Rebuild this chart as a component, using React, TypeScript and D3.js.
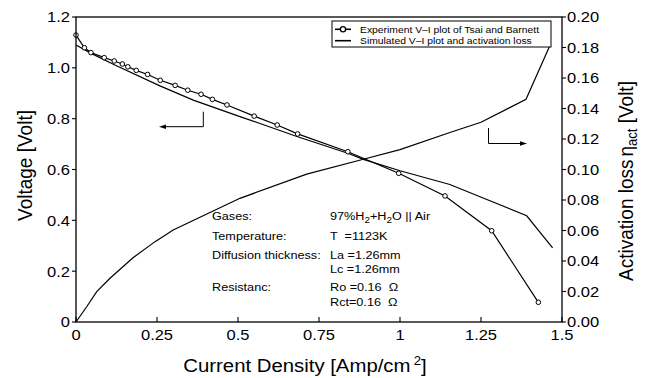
import React from "react";
import * as d3 from "d3";

// ---- data ----
const expCurrent = [0, 0.026, 0.046, 0.087, 0.118, 0.143, 0.16, 0.186, 0.221, 0.26, 0.306, 0.345, 0.386, 0.421, 0.466, 0.55, 0.621, 0.684, 0.839, 0.996, 1.139, 1.283, 1.427];
const expVoltage = [1.129, 1.079, 1.06, 1.04, 1.027, 1.015, 1.004, 0.99, 0.974, 0.951, 0.931, 0.912, 0.896, 0.876, 0.854, 0.81, 0.775, 0.74, 0.67, 0.585, 0.496, 0.359, 0.0775];

const simCurrent = [0, 0.05, 0.12, 0.259, 0.362, 0.506, 0.568, 0.684, 0.839, 0.887, 1.0, 1.154, 1.247, 1.391, 1.471];
const simVoltage = [1.09, 1.055, 1.011, 0.929, 0.873, 0.808, 0.781, 0.729, 0.664, 0.64, 0.595, 0.541, 0.493, 0.418, 0.292];

const actCurrent = [0, 0.033, 0.064, 0.105, 0.175, 0.244, 0.3, 0.506, 0.712, 0.887, 1.0, 1.154, 1.25, 1.389, 1.462];
const actLoss = [0, 0.01, 0.0199, 0.0287, 0.042, 0.0527, 0.0603, 0.0811, 0.097, 0.1067, 0.113, 0.1243, 0.131, 0.146, 0.181];

const xTicks = [0, 0.25, 0.5, 0.75, 1, 1.25, 1.5];
const xTickLabels = ["0", "0.25", "0.5", "0.75", "1", "1.25", "1.5"];
const yTicks = [0, 0.2, 0.4, 0.6, 0.8, 1.0, 1.2];
const yTickLabels = ["0", "0.2", "0.4", "0.6", "0.8", "1.0", "1.2"];
const y2Ticks = [0, 0.02, 0.04, 0.06, 0.08, 0.1, 0.12, 0.14, 0.16, 0.18, 0.2];
const y2TickLabels = ["0.00", "0.02", "0.04", "0.06", "0.08", "0.10", "0.12", "0.14", "0.16", "0.18", "0.20"];

const legendLabels = ["Experiment V\u2013I plot of Tsai and Barnett", "Simulated V\u2013I plot and activation loss"];

const FONT = "'Liberation Sans', Arial, Helvetica, sans-serif";
const SX = 1.1;

function T(props: any) {
  const { x, y, size, anchor = "start", children } = props;
  return (
    <text transform={`translate(${x},${y}) scale(${SX},1)`} fontSize={size} textAnchor={anchor} fontFamily={FONT} fill="#000" style={{ whiteSpace: "pre" }}>
      {children}
    </text>
  );
}

export default function App() {
  const L = 76, R = 562, TOP = 17, B = 322;
  const x = d3.scaleLinear().domain([0, 1.5]).range([L, R]);
  const y = d3.scaleLinear().domain([0, 1.2]).range([B, TOP]);
  const y2 = d3.scaleLinear().domain([0, 0.2]).range([B, TOP]);

  const idx = (arr: number[]) => arr.map((_, i) => i);
  const lineV = (xs: number[], ys: number[]) =>
    d3.line<number>().x((i) => x(xs[i])).y((i) => y(ys[i]))(idx(xs)) || "";
  const lineA = d3.line<number>().x((i) => x(actCurrent[i])).y((i) => y2(actLoss[i]))(idx(actCurrent)) || "";

  const sw = 1.2;

  return (
    <svg width={652} height={378} style={{ position: "absolute", left: 0, top: 0, background: "#fff" }}>
      <rect x={0} y={0} width={652} height={378} fill="#fff" />
      {/* lines */}
      <path d={lineV(simCurrent, simVoltage)} fill="none" stroke="#000" strokeWidth={sw} />
      <path d={lineA} fill="none" stroke="#000" strokeWidth={sw} />
      <path d={lineV(expCurrent, expVoltage)} fill="none" stroke="#000" strokeWidth={sw} />
      {expCurrent.map((c, i) => (
        <circle key={i} cx={x(c)} cy={y(expVoltage[i])} r={2.3} fill="#fff" stroke="#000" strokeWidth={1} />
      ))}

      {/* frame */}
      <rect x={L} y={TOP} width={R - L} height={B - TOP} fill="none" stroke="#000" strokeWidth={1.3} />

      {/* x ticks (inward) */}
      {xTicks.map((t, i) => (
        <g key={"x" + i}>
          <line x1={x(t)} x2={x(t)} y1={B} y2={B - 5} stroke="#000" strokeWidth={1.1} />
          <T x={x(t)} y={340} size={15} anchor="middle">{xTickLabels[i]}</T>
        </g>
      ))}
      {/* left ticks */}
      {yTicks.map((t, i) => (
        <g key={"y" + i}>
          <line x1={L - 4} x2={L} y1={y(t)} y2={y(t)} stroke="#000" strokeWidth={1.1} />
          <T x={70} y={y(t) + 5.4} size={15} anchor="end">{yTickLabels[i]}</T>
        </g>
      ))}
      {/* right ticks */}
      {y2Ticks.map((t, i) => (
        <g key={"y2" + i}>
          <line x1={R} x2={R + 4} y1={y2(t)} y2={y2(t)} stroke="#000" strokeWidth={1.1} />
          <T x={567} y={y2(t) + 5.4} size={15}>{y2TickLabels[i]}</T>
        </g>
      ))}

      {/* axis titles */}
      <T x={305} y={372} size={18.5} anchor="middle">
        Current Density [Amp/cm<tspan dx={3} dy={-7} fontSize={12}>2</tspan><tspan dy={7}>]</tspan>
      </T>
      <text transform="translate(32,165.5) rotate(-90) scale(1,1.1)" fontSize={19} textAnchor="middle" fontFamily={FONT}>
        Voltage [Volt]
      </text>
      <text transform="translate(633,181) rotate(-90) scale(1,1.1)" fontSize={19} textAnchor="middle" fontFamily={FONT}>
        Activation loss<tspan dx={3}>{"\u03B7"}</tspan><tspan fontSize={13} dy={4}>act</tspan><tspan dy={-4}> [Volt]</tspan>
      </text>

      {/* legend */}
      <rect x={332} y={21} width={219} height={26} fill="#fff" stroke="#000" strokeWidth={1} />
      <line x1={335} x2={351} y1={29.3} y2={29.3} stroke="#000" strokeWidth={1.6} />
      <circle cx={343} cy={29.3} r={2.6} fill="#fff" stroke="#000" strokeWidth={1.3} />
      <line x1={335} x2={351} y1={40.7} y2={40.7} stroke="#000" strokeWidth={1.6} />
      <T x={360} y={32.6} size={9.4}>{legendLabels[0]}</T>
      <T x={360} y={44} size={9.4}>{legendLabels[1]}</T>

      {/* arrows */}
      <polyline points="203.3,111.7 203.3,126.7 163,126.7" fill="none" stroke="#000" strokeWidth={1} />
      <polygon points="159,126.7 166,124.4 166,129" fill="#000" />
      <polyline points="488.5,128 488.5,143.5 523,143.5" fill="none" stroke="#000" strokeWidth={1} />
      <polygon points="527,143.5 520,141.2 520,145.8" fill="#000" />

      {/* annotations */}
      <T x={212} y={219.5} size={11.5}>Gases:</T>
      <T x={330} y={219.5} size={11.5}>
        97%H<tspan fontSize={9} dy={3.5}>2</tspan><tspan dy={-3.5}>+H</tspan><tspan fontSize={9} dy={3.5}>2</tspan><tspan dy={-3.5}>O || Air</tspan>
      </T>
      <T x={212} y={239.5} size={11.5}>Temperature:</T>
      <T x={330} y={239.5} size={11.5}>{"T  =1123K"}</T>
      <T x={212} y={258.5} size={11.5}>Diffusion thickness:</T>
      <T x={330} y={258.5} size={11.5}>{"La =1.26mm"}</T>
      <T x={330} y={272.5} size={11.5}>{"Lc =1.26mm"}</T>
      <T x={212} y={291} size={11.5}>Resistanc:</T>
      <T x={330} y={291} size={11.5}>{"Ro =0.16  \u03A9"}</T>
      <T x={330} y={305.5} size={11.5}>{"Rct=0.16  \u03A9"}</T>
    </svg>
  );
}
